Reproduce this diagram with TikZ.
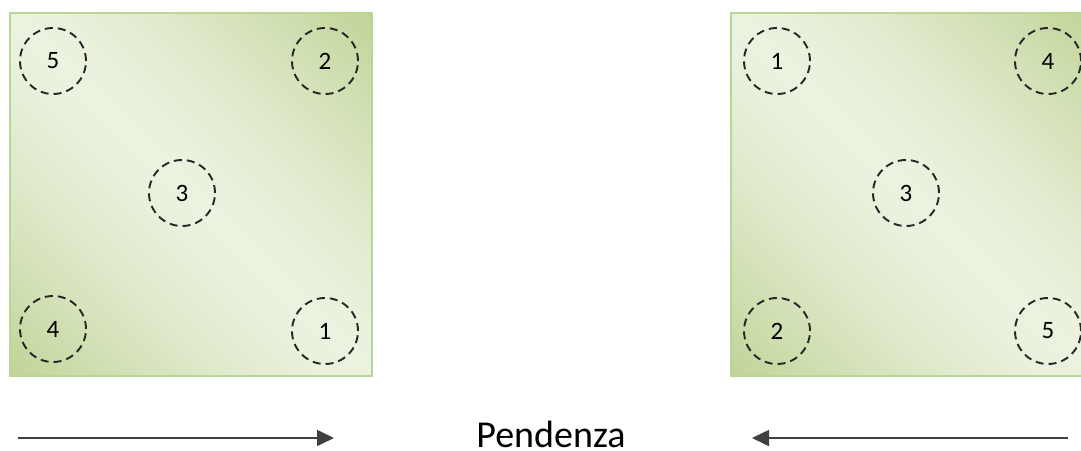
\documentclass[tikz,border=0pt]{standalone}
\usepackage{fontspec}
\setmainfont{Carlito}
\usetikzlibrary{arrows.meta}
\definecolor{dk}{HTML}{C0D497}
\definecolor{lt}{HTML}{ECF2E0}
\definecolor{bd}{HTML}{BAD598}
\tikzset{
  hole/.style={circle, draw=black!85, dash pattern=on 8pt off 5pt, line width=1.9pt, minimum size=66pt, inner sep=0pt, font=\fontsize{25}{25}\selectfont},
  slope/.style={draw=black!75, line width=1.6pt, -{Triangle[length=17pt,width=16pt]}},
  lbl/.style={font=\fontsize{38}{38}\selectfont, inner sep=0pt},
  frame/.style={draw=bd, line width=2pt}
}
% diagonal gradient: dark at NE and SW corners, light along NW-SE diagonal
\newcommand{\gradsq}[2]{%
  \begin{scope}
  \clip (#1-181,#2-181.5) rectangle (#1+181,#2+181.5);
  \begin{scope}[shift={(#1,#2)}]
  \foreach \i in {0,...,89}{%
    \pgfmathsetmacro{\ca}{-363+\i*8.0667}
    \pgfmathsetmacro{\cb}{\ca+8.0667+0.8}
    \pgfmathsetmacro{\tt}{abs((\ca+4.03)/363)}
    \pgfmathsetmacro{\m}{max(0,min(100,100*(1-\tt^1.4)))}
    \fill[lt!\m!dk] (\ca/2-400,-\ca/2-400) -- (\ca/2+400,-\ca/2+400) -- (\cb/2+400,-\cb/2+400) -- (\cb/2-400,-\cb/2-400) -- cycle;
  }
  \end{scope}
  \end{scope}}
\begin{document}
\begin{tikzpicture}[x=1pt,y=-1pt]
\useasboundingbox (0,0) rectangle (1081,450);
\clip (0,0) rectangle (1081,450);
% left square
\gradsq{191}{194.5}
\draw[frame] (10,13) rectangle (372,376);
\node[hole] (l5) at (53,61) {5};
\node[hole] (l2) at (325,61) {2};
\node[hole] (l3) at (182,193) {3};
\node[hole] (l4) at (53,329) {4};
\node[hole] (l1) at (325,331) {1};
% right square
\gradsq{912}{194.5}
\draw[frame] (731,13) rectangle (1093,376);
\node[hole] (r1) at (777,61) {1};
\node[hole] (r4) at (1048,61) {4};
\node[hole] (r3) at (906,193) {3};
\node[hole] (r2) at (777,331) {2};
\node[hole] (r5) at (1048,331) {5};
% arrows and label
\coordinate (a1) at (18,438);
\coordinate (a2) at (334,438);
\coordinate (b1) at (1068,438);
\coordinate (b2) at (752,438);
\draw[slope] (a1) -- (a2);
\draw[slope] (b1) -- (b2);
\node[lbl] (pend) at (551,434) {Pendenza};
\end{tikzpicture}
\end{document}
